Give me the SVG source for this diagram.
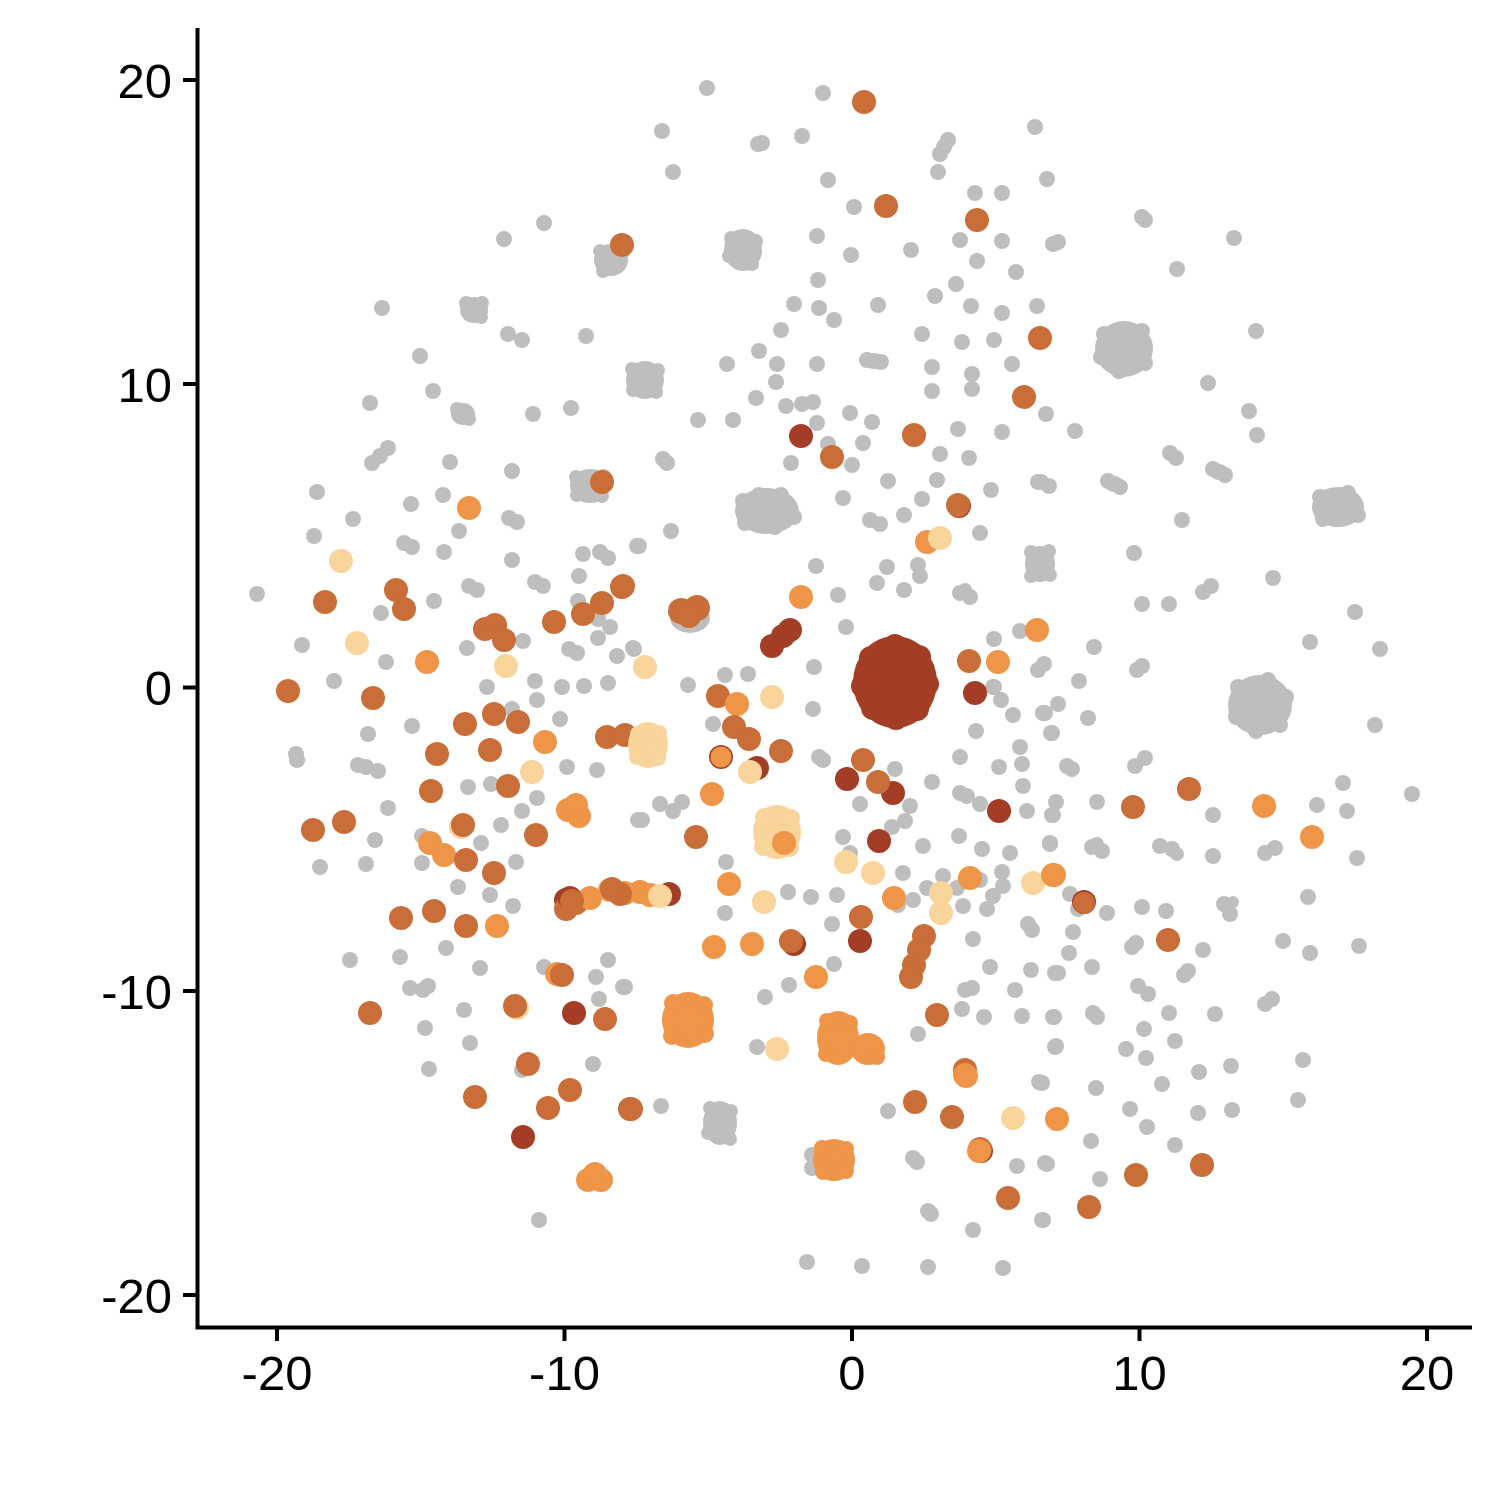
<svg xmlns="http://www.w3.org/2000/svg" xmlns:xlink="http://www.w3.org/1999/xlink" width="1500" height="1500" viewBox="0 0 1500 1500">
<style>
.g{fill:#bebebe}.d{fill:#a33d26}.b{fill:#c96e38}.o{fill:#ef9548}.l{fill:#f9d49b}
.ax{stroke:#000;stroke-width:4;fill:none;stroke-linecap:butt}
.tk{font-family:"Liberation Sans",Arial,Helvetica,sans-serif;font-size:49px;fill:#000}
</style>
<defs>
<circle id="g" r="8" class="g"/>
<circle id="d" r="12" class="d"/>
<circle id="b" r="12" class="b"/>
<circle id="o" r="12" class="o"/>
<circle id="l" r="12" class="l"/>
</defs>
<rect width="1500" height="1500" fill="#fff"/>
<g id="grey-points">
<use href="#g" x="707" y="88"/><use href="#g" x="823" y="93"/><use href="#g" x="662" y="131"/><use href="#g" x="802" y="136"/><use href="#g" x="1035" y="127"/>
<use href="#g" x="948" y="140"/><use href="#g" x="944" y="147"/><use href="#g" x="940" y="154"/><use href="#g" x="938" y="172"/><use href="#g" x="758" y="144"/><use href="#g" x="762" y="143"/>
<use href="#g" x="673" y="172"/><use href="#g" x="828" y="180"/><use href="#g" x="1047" y="179"/><use href="#g" x="975" y="193"/><use href="#g" x="1002" y="193"/><use href="#g" x="854" y="207"/>
<use href="#g" x="544" y="223"/><use href="#g" x="817" y="236"/><use href="#g" x="1145" y="220"/><use href="#g" x="1142" y="217"/><use href="#g" x="504" y="239"/><use href="#g" x="960" y="240"/>
<use href="#g" x="1002" y="241"/><use href="#g" x="1234" y="238"/><use href="#g" x="851" y="255"/><use href="#g" x="911" y="250"/><use href="#g" x="1053" y="244"/><use href="#g" x="1058" y="242"/>
<use href="#g" x="977" y="261"/><use href="#g" x="1177" y="269"/><use href="#g" x="1016" y="272"/><use href="#g" x="818" y="280"/><use href="#g" x="382" y="308"/><use href="#g" x="794" y="304"/>
<use href="#g" x="819" y="308"/><use href="#g" x="834" y="320"/><use href="#g" x="878" y="305"/><use href="#g" x="935" y="296"/><use href="#g" x="956" y="284"/><use href="#g" x="971" y="306"/>
<use href="#g" x="1002" y="313"/><use href="#g" x="1037" y="306"/><use href="#g" x="508" y="334"/><use href="#g" x="522" y="340"/><use href="#g" x="586" y="336"/><use href="#g" x="781" y="330"/>
<use href="#g" x="922" y="334"/><use href="#g" x="962" y="342"/><use href="#g" x="994" y="340"/><use href="#g" x="1256" y="331"/><use href="#g" x="420" y="356"/><use href="#g" x="759" y="351"/>
<use href="#g" x="727" y="364"/><use href="#g" x="777" y="364"/><use href="#g" x="817" y="364"/><use href="#g" x="932" y="367"/><use href="#g" x="972" y="374"/><use href="#g" x="1012" y="364"/>
<use href="#g" x="776" y="382"/><use href="#g" x="1208" y="383"/><use href="#g" x="433" y="391"/><use href="#g" x="370" y="403"/><use href="#g" x="533" y="414"/><use href="#g" x="571" y="408"/>
<use href="#g" x="756" y="398"/><use href="#g" x="786" y="406"/><use href="#g" x="802" y="404"/><use href="#g" x="813" y="402"/><use href="#g" x="817" y="423"/><use href="#g" x="850" y="413"/>
<use href="#g" x="872" y="422"/><use href="#g" x="932" y="391"/><use href="#g" x="972" y="389"/><use href="#g" x="1002" y="432"/><use href="#g" x="958" y="429"/><use href="#g" x="698" y="420"/>
<use href="#g" x="733" y="420"/><use href="#g" x="1046" y="414"/><use href="#g" x="1075" y="431"/><use href="#g" x="1249" y="411"/><use href="#g" x="1257" y="435"/><use href="#g" x="940" y="454"/>
<use href="#g" x="969" y="458"/><use href="#g" x="1038" y="482"/><use href="#g" x="991" y="490"/><use href="#g" x="937" y="480"/><use href="#g" x="922" y="499"/><use href="#g" x="888" y="481"/>
<use href="#g" x="843" y="498"/><use href="#g" x="667" y="463"/><use href="#g" x="663" y="459"/><use href="#g" x="791" y="463"/><use href="#g" x="828" y="444"/><use href="#g" x="852" y="465"/><use href="#g" x="863" y="443"/>
<use href="#g" x="1170" y="453"/><use href="#g" x="1176" y="458"/><use href="#g" x="1182" y="520"/><use href="#g" x="372" y="463"/><use href="#g" x="380" y="456"/><use href="#g" x="388" y="448"/>
<use href="#g" x="450" y="462"/><use href="#g" x="512" y="471"/><use href="#g" x="317" y="492"/><use href="#g" x="353" y="519"/><use href="#g" x="314" y="536"/><use href="#g" x="411" y="504"/>
<use href="#g" x="443" y="495"/><use href="#g" x="459" y="531"/><use href="#g" x="444" y="552"/><use href="#g" x="512" y="560"/><use href="#g" x="637" y="546"/>
<use href="#g" x="583" y="554"/><use href="#g" x="600" y="552"/><use href="#g" x="608" y="558"/><use href="#g" x="579" y="576"/><use href="#g" x="578" y="601"/>
<use href="#g" x="598" y="619"/><use href="#g" x="610" y="627"/><use href="#g" x="257" y="594"/><use href="#g" x="381" y="613"/><use href="#g" x="434" y="601"/><use href="#g" x="302" y="645"/>
<use href="#g" x="386" y="662"/><use href="#g" x="467" y="648"/><use href="#g" x="523" y="641"/><use href="#g" x="598" y="638"/><use href="#g" x="617" y="656"/><use href="#g" x="633" y="648"/>
<use href="#g" x="671" y="531"/><use href="#g" x="639" y="546"/><use href="#g" x="816" y="566"/><use href="#g" x="887" y="567"/><use href="#g" x="918" y="565"/><use href="#g" x="920" y="576"/>
<use href="#g" x="877" y="583"/><use href="#g" x="904" y="590"/><use href="#g" x="838" y="595"/><use href="#g" x="846" y="627"/><use href="#g" x="814" y="667"/><use href="#g" x="994" y="639"/>
<use href="#g" x="1020" y="631"/><use href="#g" x="1038" y="670"/><use href="#g" x="1044" y="664"/><use href="#g" x="725" y="675"/><use href="#g" x="748" y="674"/><use href="#g" x="688" y="685"/><use href="#g" x="634" y="649"/>
<use href="#g" x="994" y="687"/><use href="#g" x="904" y="515"/><use href="#g" x="980" y="533"/><use href="#g" x="1134" y="553"/><use href="#g" x="1273" y="578"/><use href="#g" x="1142" y="604"/>
<use href="#g" x="1169" y="604"/><use href="#g" x="1355" y="612"/><use href="#g" x="1310" y="642"/><use href="#g" x="1380" y="649"/><use href="#g" x="1094" y="647"/><use href="#g" x="1142" y="666"/><use href="#g" x="1137" y="670"/>
<use href="#g" x="1079" y="681"/><use href="#g" x="334" y="681"/><use href="#g" x="487" y="687"/><use href="#g" x="535" y="681"/><use href="#g" x="562" y="687"/><use href="#g" x="584" y="686"/>
<use href="#g" x="608" y="683"/><use href="#g" x="537" y="700"/>
<use href="#g" x="412" y="726"/><use href="#g" x="368" y="734"/><use href="#g" x="512" y="709"/><use href="#g" x="560" y="719"/><use href="#g" x="297" y="760"/><use href="#g" x="296" y="754"/><use href="#g" x="358" y="765"/>
<use href="#g" x="366" y="767"/><use href="#g" x="378" y="771"/><use href="#g" x="567" y="767"/><use href="#g" x="597" y="770"/><use href="#g" x="468" y="787"/><use href="#g" x="491" y="784"/>
<use href="#g" x="537" y="798"/><use href="#g" x="522" y="811"/><use href="#g" x="388" y="808"/><use href="#g" x="501" y="825"/><use href="#g" x="375" y="840"/><use href="#g" x="422" y="836"/>
<use href="#g" x="481" y="843"/><use href="#g" x="320" y="867"/><use href="#g" x="366" y="864"/><use href="#g" x="422" y="863"/><use href="#g" x="516" y="862"/><use href="#g" x="638" y="820"/>
<use href="#g" x="458" y="887"/><use href="#g" x="490" y="895"/><use href="#g" x="513" y="906"/><use href="#g" x="446" y="948"/><use href="#g" x="350" y="960"/><use href="#g" x="400" y="957"/>
<use href="#g" x="480" y="968"/><use href="#g" x="544" y="967"/><use href="#g" x="608" y="960"/><use href="#g" x="596" y="977"/><use href="#g" x="623" y="987"/><use href="#g" x="599" y="999"/>
<use href="#g" x="410" y="988"/><use href="#g" x="428" y="986"/><use href="#g" x="423" y="990"/><use href="#g" x="464" y="1010"/><use href="#g" x="425" y="1028"/><use href="#g" x="470" y="1043"/>
<use href="#g" x="593" y="1064"/><use href="#g" x="522" y="1070"/><use href="#g" x="429" y="1069"/><use href="#g" x="539" y="1220"/>
<use href="#g" x="813" y="709"/><use href="#g" x="713" y="724"/><use href="#g" x="819" y="757"/><use href="#g" x="823" y="760"/><use href="#g" x="895" y="769"/><use href="#g" x="932" y="782"/>
<use href="#g" x="960" y="757"/><use href="#g" x="999" y="767"/><use href="#g" x="1022" y="764"/><use href="#g" x="1013" y="715"/><use href="#g" x="1001" y="700"/><use href="#g" x="993" y="687"/>
<use href="#g" x="1043" y="713"/><use href="#g" x="1051" y="733"/><use href="#g" x="976" y="731"/><use href="#g" x="1020" y="747"/><use href="#g" x="1023" y="786"/><use href="#g" x="960" y="793"/>
<use href="#g" x="967" y="796"/><use href="#g" x="980" y="804"/><use href="#g" x="1027" y="811"/><use href="#g" x="1052" y="815"/><use href="#g" x="860" y="804"/><use href="#g" x="910" y="806"/>
<use href="#g" x="905" y="821"/><use href="#g" x="892" y="827"/><use href="#g" x="843" y="837"/><use href="#g" x="850" y="853"/><use href="#g" x="923" y="846"/><use href="#g" x="959" y="836"/>
<use href="#g" x="982" y="849"/><use href="#g" x="1010" y="853"/><use href="#g" x="1050" y="843"/><use href="#g" x="660" y="804"/><use href="#g" x="673" y="811"/><use href="#g" x="682" y="802"/>
<use href="#g" x="642" y="820"/><use href="#g" x="726" y="862"/><use href="#g" x="903" y="873"/><use href="#g" x="943" y="876"/><use href="#g" x="927" y="888"/><use href="#g" x="957" y="888"/>
<use href="#g" x="980" y="880"/><use href="#g" x="1002" y="872"/><use href="#g" x="1003" y="886"/><use href="#g" x="993" y="896"/><use href="#g" x="987" y="909"/><use href="#g" x="963" y="906"/>
<use href="#g" x="913" y="900"/><use href="#g" x="898" y="905"/><use href="#g" x="1028" y="924"/><use href="#g" x="1032" y="930"/><use href="#g" x="973" y="939"/><use href="#g" x="990" y="967"/><use href="#g" x="1031" y="970"/>
<use href="#g" x="1055" y="973"/><use href="#g" x="965" y="990"/><use href="#g" x="972" y="988"/><use href="#g" x="962" y="1009"/><use href="#g" x="984" y="1017"/><use href="#g" x="1015" y="990"/>
<use href="#g" x="1022" y="1016"/><use href="#g" x="1053" y="1017"/><use href="#g" x="1055" y="1047"/><use href="#g" x="1039" y="1082"/><use href="#g" x="918" y="1034"/><use href="#g" x="725" y="913"/>
<use href="#g" x="788" y="892"/><use href="#g" x="811" y="897"/><use href="#g" x="837" y="895"/><use href="#g" x="832" y="924"/><use href="#g" x="834" y="964"/><use href="#g" x="789" y="985"/>
<use href="#g" x="765" y="997"/><use href="#g" x="757" y="1047"/><use href="#g" x="625" y="987"/><use href="#g" x="661" y="1106"/><use href="#g" x="812" y="1155"/><use href="#g" x="812" y="1168"/><use href="#g" x="888" y="1111"/>
<use href="#g" x="913" y="1158"/><use href="#g" x="917" y="1162"/><use href="#g" x="1017" y="1166"/><use href="#g" x="1045" y="1163"/><use href="#g" x="928" y="1211"/><use href="#g" x="931" y="1214"/><use href="#g" x="973" y="1230"/>
<use href="#g" x="1042" y="1220"/><use href="#g" x="807" y="1262"/><use href="#g" x="862" y="1266"/><use href="#g" x="928" y="1267"/><use href="#g" x="1003" y="1268"/>
<use href="#g" x="1375" y="725"/><use href="#g" x="1058" y="704"/><use href="#g" x="1045" y="713"/><use href="#g" x="1088" y="718"/><use href="#g" x="1052" y="733"/><use href="#g" x="1067" y="766"/><use href="#g" x="1072" y="769"/>
<use href="#g" x="1056" y="802"/><use href="#g" x="1053" y="815"/><use href="#g" x="1097" y="802"/><use href="#g" x="1213" y="815"/><use href="#g" x="1317" y="805"/><use href="#g" x="1343" y="783"/>
<use href="#g" x="1347" y="811"/><use href="#g" x="1412" y="794"/><use href="#g" x="1050" y="844"/><use href="#g" x="1213" y="856"/><use href="#g" x="1357" y="858"/><use href="#g" x="1308" y="897"/>
<use href="#g" x="1070" y="894"/><use href="#g" x="1078" y="909"/><use href="#g" x="1107" y="913"/><use href="#g" x="1142" y="907"/><use href="#g" x="1166" y="911"/><use href="#g" x="1073" y="932"/>
<use href="#g" x="1132" y="947"/><use href="#g" x="1136" y="943"/><use href="#g" x="1069" y="953"/><use href="#g" x="1203" y="950"/><use href="#g" x="1283" y="941"/><use href="#g" x="1310" y="953"/><use href="#g" x="1359" y="946"/>
<use href="#g" x="1058" y="973"/><use href="#g" x="1092" y="967"/><use href="#g" x="1184" y="975"/><use href="#g" x="1188" y="971"/><use href="#g" x="1138" y="986"/><use href="#g" x="1148" y="994"/><use href="#g" x="1265" y="1004"/><use href="#g" x="1272" y="999"/>
<use href="#g" x="1054" y="1017"/><use href="#g" x="1097" y="1017"/><use href="#g" x="1093" y="1013"/><use href="#g" x="1169" y="1013"/><use href="#g" x="1215" y="1014"/><use href="#g" x="1144" y="1029"/><use href="#g" x="1175" y="1041"/>
<use href="#g" x="1056" y="1046"/><use href="#g" x="1126" y="1049"/><use href="#g" x="1146" y="1058"/><use href="#g" x="1199" y="1072"/><use href="#g" x="1231" y="1066"/><use href="#g" x="1303" y="1060"/>
<use href="#g" x="1042" y="1083"/><use href="#g" x="1096" y="1088"/><use href="#g" x="1162" y="1084"/><use href="#g" x="1130" y="1109"/><use href="#g" x="1198" y="1113"/><use href="#g" x="1232" y="1110"/>
<use href="#g" x="1298" y="1100"/><use href="#g" x="1147" y="1127"/><use href="#g" x="1091" y="1141"/><use href="#g" x="1175" y="1145"/><use href="#g" x="1047" y="1164"/><use href="#g" x="1100" y="1179"/>
<use href="#g" x="1043" y="1220"/>
<g class="g">
<g transform="translate(743 250)"><ellipse rx="19" ry="21"/><circle cx="-12" cy="-12" r="7"/><circle cx="13" cy="-9" r="7"/><circle cx="-14" cy="6" r="7"/><circle cx="9" cy="14" r="7"/></g>
<g transform="translate(611 260)"><ellipse rx="17" ry="16"/><circle cx="-11" cy="-9" r="7"/><circle cx="12" cy="-8" r="7"/><circle cx="-8" cy="11" r="7"/></g>
<g transform="translate(474 310)"><ellipse rx="14" ry="13"/><circle cx="-8" cy="-7" r="7"/><circle cx="8" cy="-7" r="7"/><circle cx="7" cy="7" r="7"/></g>
<g transform="translate(1124 349)"><ellipse rx="29" ry="28"/><circle cx="-20" cy="-15" r="8"/><circle cx="18" cy="-18" r="8"/><circle cx="-23" cy="8" r="8"/><circle cx="21" cy="14" r="8"/><circle cx="-5" cy="22" r="8"/></g>
<g transform="translate(645 380)"><ellipse rx="19" ry="19"/><circle cx="-13" cy="-11" r="7"/><circle cx="13" cy="-10" r="7"/><circle cx="-12" cy="10" r="7"/><circle cx="11" cy="12" r="7"/></g>
<g transform="translate(463 414)"><ellipse rx="12" ry="11"/><circle cx="-6" cy="-5" r="7"/><circle cx="6" cy="5" r="7"/></g>
<g transform="translate(767 511)"><ellipse rx="32" ry="23"/><circle cx="-24" cy="-10" r="8"/><circle cx="-8" cy="-16" r="8"/><circle cx="14" cy="-16" r="8"/><circle cx="27" cy="6" r="8"/><circle cx="-22" cy="12" r="8"/><circle cx="8" cy="16" r="8"/></g>
<g transform="translate(590 486)"><ellipse rx="20" ry="17"/><circle cx="-14" cy="-9" r="7"/><circle cx="14" cy="-10" r="7"/><circle cx="-13" cy="9" r="7"/><circle cx="12" cy="10" r="7"/></g>
<g transform="translate(1338 507)"><ellipse rx="26" ry="20"/><circle cx="-18" cy="-10" r="8"/><circle cx="10" cy="-14" r="8"/><circle cx="20" cy="8" r="8"/><circle cx="-15" cy="12" r="8"/></g>
<g transform="translate(1260 705)"><ellipse rx="32" ry="30"/><circle cx="-22" cy="-18" r="8"/><circle cx="8" cy="-25" r="8"/><circle cx="26" cy="-8" r="8"/><circle cx="20" cy="20" r="8"/><circle cx="-24" cy="12" r="8"/><circle cx="-4" cy="26" r="8"/></g>
<g transform="translate(720 1123)"><ellipse rx="17" ry="22"/><circle cx="-10" cy="-15" r="7"/><circle cx="11" cy="-12" r="7"/><circle cx="-12" cy="10" r="7"/><circle cx="10" cy="16" r="7"/></g>
<g transform="translate(1040 564)"><ellipse rx="15" ry="18"/><circle cx="-9" cy="-12" r="7"/><circle cx="9" cy="-13" r="7"/><circle cx="-9" cy="12" r="7"/><circle cx="10" cy="11" r="7"/></g>
<ellipse cx="874" cy="361" rx="10" ry="8"/><circle cx="867" cy="360" r="8"/><circle cx="881" cy="362" r="8"/>
<ellipse cx="1219" cy="472" rx="9" ry="8"/><circle cx="1213" cy="469" r="8"/><circle cx="1225" cy="475" r="8"/>
<ellipse cx="1114" cy="484" rx="9" ry="8"/><circle cx="1108" cy="481" r="8"/><circle cx="1120" cy="487" r="8"/>
<circle cx="1041" cy="482" r="8"/><circle cx="1049" cy="486" r="8"/>
<circle cx="1092" cy="847" r="8"/><circle cx="1102" cy="851" r="8"/><circle cx="1097" cy="844" r="7"/>
<circle cx="1160" cy="846" r="8"/><circle cx="1172" cy="849" r="8"/><circle cx="1177" cy="854" r="7"/>
<circle cx="1265" cy="853" r="8"/><circle cx="1275" cy="848" r="8"/>
<circle cx="1224" cy="904" r="8"/><circle cx="1230" cy="914" r="8"/><circle cx="1233" cy="902" r="6"/>
<circle cx="1135" cy="766" r="8"/><circle cx="1145" cy="758" r="8"/>
<circle cx="960" cy="593" r="8"/><circle cx="970" cy="597" r="8"/><circle cx="965" cy="590" r="7"/>
<circle cx="509" cy="518" r="8"/><circle cx="517" cy="522" r="8"/>
<circle cx="535" cy="582" r="8"/><circle cx="543" cy="586" r="8"/>
<circle cx="569" cy="649" r="8"/><circle cx="577" cy="653" r="8"/>
<circle cx="404" cy="543" r="8"/><circle cx="412" cy="547" r="8"/>
<circle cx="469" cy="586" r="8"/><circle cx="477" cy="590" r="8"/>
<circle cx="870" cy="520" r="8"/><circle cx="880" cy="524" r="8"/>
<circle cx="1203" cy="592" r="8"/><circle cx="1211" cy="586" r="8"/>
<ellipse cx="690" cy="618" rx="20" ry="15"/>
</g>
</g>
<g id="coloured-points">
<use href="#l" x="341" y="561"/><use href="#l" x="357" y="643"/><use href="#l" x="506" y="666"/><use href="#l" x="645" y="667"/>
<use href="#l" x="772" y="697"/><use href="#l" x="532" y="772"/>
<use href="#b" x="864" y="102"/><use href="#b" x="886" y="206"/><use href="#b" x="977" y="220"/><use href="#b" x="622" y="245"/><use href="#b" x="1040" y="338"/><use href="#b" x="1024" y="397"/>
<use href="#b" x="914" y="435"/><use href="#b" x="832" y="457"/><use href="#d" x="959" y="506"/><use href="#b" x="958" y="505"/><use href="#b" x="602" y="482"/><use href="#b" x="623" y="586"/>
<circle class="b" cx="681" cy="611" r="13"/><circle class="b" cx="697" cy="608" r="13"/><circle class="b" cx="689" cy="616" r="12"/>
<use href="#b" x="325" y="602"/><use href="#b" x="396" y="590"/><use href="#b" x="404" y="609"/><use href="#b" x="622" y="587"/><use href="#b" x="602" y="603"/><use href="#b" x="583" y="614"/>
<use href="#b" x="554" y="622"/><use href="#b" x="485" y="629"/><use href="#b" x="495" y="625"/><use href="#b" x="504" y="640"/><use href="#b" x="288" y="691"/><use href="#b" x="373" y="698"/>
<use href="#b" x="969" y="661"/><use href="#b" x="465" y="724"/><use href="#b" x="494" y="714"/><use href="#b" x="518" y="722"/><use href="#b" x="437" y="754"/><use href="#b" x="490" y="750"/>
<use href="#o" x="469" y="508"/><use href="#o" x="427" y="662"/><use href="#o" x="801" y="597"/><use href="#o" x="927" y="542"/><use href="#l" x="940" y="538"/><use href="#o" x="1037" y="630"/><use href="#o" x="998" y="662"/>
<use href="#d" x="801" y="436"/>
<use href="#d" x="772" y="646"/><use href="#d" x="783" y="636"/><use href="#d" x="790" y="630"/>
<use href="#b" x="718" y="696"/><use href="#o" x="737" y="704"/>
<use href="#o" x="545" y="742"/>
<use href="#b" x="607" y="737"/><use href="#b" x="625" y="735"/>
<g class="l" transform="translate(648 745)"><ellipse rx="20" ry="23"/><circle cx="-10" cy="-11" r="8"/><circle cx="11" cy="-12" r="8"/><circle cx="-11" cy="12" r="8"/><circle cx="10" cy="13" r="8"/></g>
<use href="#b" x="734" y="727"/><use href="#b" x="749" y="739"/><use href="#b" x="781" y="751"/>
<use href="#d" x="721" y="757"/><circle class="o" cx="721" cy="757" r="10.5"/>
<use href="#d" x="757" y="768"/><use href="#l" x="750" y="772"/>
<use href="#b" x="863" y="760"/><use href="#d" x="847" y="779"/><use href="#d" x="893" y="793"/><use href="#b" x="878" y="782"/>
<use href="#d" x="999" y="811"/>
<use href="#o" x="712" y="794"/>
<use href="#b" x="431" y="791"/><use href="#b" x="508" y="786"/>
<use href="#o" x="568" y="810"/><use href="#o" x="579" y="816"/><use href="#o" x="576" y="805"/>
<use href="#b" x="313" y="830"/><use href="#b" x="344" y="822"/><use href="#l" x="461" y="827"/><use href="#b" x="463" y="825"/><use href="#b" x="536" y="835"/>
<use href="#o" x="430" y="843"/><use href="#o" x="444" y="855"/><use href="#b" x="466" y="860"/><use href="#b" x="494" y="873"/>
<use href="#b" x="696" y="837"/>
<g class="l" transform="translate(777 832)"><ellipse rx="24" ry="27"/><circle cx="-13" cy="-15" r="9"/><circle cx="14" cy="-14" r="9"/><circle cx="-14" cy="15" r="9"/><circle cx="13" cy="16" r="9"/></g>
<use href="#o" x="784" y="843"/>
<use href="#d" x="879" y="841"/><use href="#l" x="846" y="862"/><use href="#l" x="873" y="873"/>
<use href="#o" x="970" y="878"/><use href="#l" x="1033" y="883"/><use href="#o" x="1053" y="875"/><use href="#o" x="894" y="898"/>
<use href="#l" x="941" y="913"/><use href="#l" x="941" y="893"/>
<use href="#o" x="729" y="884"/><use href="#l" x="764" y="902"/>
<use href="#d" x="566" y="900"/><use href="#b" x="576" y="903"/><use href="#o" x="590" y="898"/><use href="#b" x="566" y="909"/><use href="#d" x="570" y="898"/><use href="#b" x="572" y="901"/>
<use href="#o" x="610" y="890"/><use href="#o" x="625" y="893"/><use href="#o" x="640" y="892"/><use href="#b" x="620" y="894"/><use href="#o" x="650" y="895"/>
<use href="#d" x="669" y="894"/><use href="#l" x="660" y="896"/><use href="#b" x="612" y="889"/>
<use href="#b" x="401" y="918"/><use href="#b" x="434" y="911"/><use href="#b" x="466" y="926"/><use href="#o" x="497" y="926"/>
<use href="#b" x="861" y="917"/><use href="#d" x="860" y="941"/>
<use href="#d" x="794" y="944"/><use href="#b" x="791" y="941"/>
<use href="#b" x="924" y="936"/><use href="#b" x="919" y="950"/><use href="#b" x="914" y="965"/><use href="#b" x="911" y="977"/>
<use href="#o" x="714" y="947"/><use href="#o" x="752" y="944"/><use href="#o" x="816" y="977"/>
<use href="#o" x="557" y="974"/><use href="#b" x="562" y="975"/>
<use href="#b" x="370" y="1013"/><use href="#l" x="517" y="1008"/><use href="#b" x="515" y="1006"/><use href="#d" x="574" y="1013"/><use href="#b" x="605" y="1019"/>
<use href="#b" x="528" y="1064"/><use href="#b" x="570" y="1090"/><use href="#b" x="548" y="1108"/><use href="#b" x="475" y="1097"/><use href="#b" x="630" y="1109"/>
<use href="#d" x="523" y="1137"/>
<use href="#o" x="588" y="1180"/><use href="#o" x="601" y="1180"/><use href="#o" x="595" y="1174"/>
<g class="o" transform="translate(688 1020)"><ellipse rx="26" ry="28"/><circle cx="-15" cy="-17" r="9"/><circle cx="16" cy="-15" r="9"/><circle cx="-16" cy="16" r="9"/><circle cx="17" cy="14" r="9"/></g>
<use href="#b" x="937" y="1015"/>
<g class="o" transform="translate(838 1038)"><ellipse rx="21" ry="27"/><circle cx="-11" cy="-17" r="8"/><circle cx="12" cy="-15" r="8"/><circle cx="-12" cy="16" r="8"/></g>
<g class="o" transform="translate(868 1049)"><ellipse rx="17" ry="16"/><circle cx="9" cy="8" r="8"/></g>
<use href="#l" x="777" y="1049"/>
<use href="#b" x="965" y="1070"/><use href="#o" x="966" y="1076"/><use href="#o" x="965" y="1075"/>
<use href="#b" x="915" y="1102"/><use href="#b" x="952" y="1117"/><use href="#l" x="1013" y="1118"/><use href="#o" x="1057" y="1119"/>
<use href="#d" x="981" y="1151"/><use href="#b" x="980" y="1149"/><use href="#o" x="979" y="1151"/>
<g class="o" transform="translate(834 1160)"><ellipse rx="21" ry="21"/><circle cx="-12" cy="-12" r="8"/><circle cx="12" cy="-11" r="8"/><circle cx="-11" cy="12" r="8"/><circle cx="12" cy="11" r="8"/></g>
<use href="#b" x="1008" y="1198"/><use href="#b" x="631" y="1109"/>
<use href="#b" x="1133" y="807"/><use href="#b" x="1189" y="789"/><use href="#o" x="1264" y="806"/><use href="#o" x="1312" y="837"/><use href="#o" x="1054" y="875"/>
<use href="#d" x="1084" y="902"/><circle class="b" cx="1084" cy="903" r="11"/><use href="#b" x="1168" y="940"/><use href="#b" x="1136" y="1175"/><use href="#b" x="1202" y="1165"/><use href="#b" x="1089" y="1207"/>
<g class="d" transform="translate(895 682)">
<ellipse rx="42" ry="46"/>
<circle cx="-24" cy="-24" r="12"/><circle cx="24" cy="-25" r="12"/><circle cx="-32" cy="4" r="12"/><circle cx="32" cy="2" r="12"/>
<circle cx="-22" cy="26" r="12"/><circle cx="22" cy="27" r="12"/><circle cx="0" cy="-36" r="12"/><circle cx="1" cy="36" r="12"/>
</g>
<use href="#d" x="975" y="693"/>
</g>
<g id="axes">
<path class="ax" d="M197.5 28V1329M195.5 1327.5H1472"/>
<path class="ax" d="M183 80H197M183 384H197M183 687.5H197M183 991H197M183 1295H197"/>
<path class="ax" d="M277 1327V1341M564.5 1327V1341M852 1327V1341M1139.5 1327V1341M1427 1327V1341"/>
<g class="tk" text-anchor="end">
<text x="172" y="98">20</text>
<text x="172" y="402">10</text>
<text x="172" y="705">0</text>
<text x="172" y="1009">-10</text>
<text x="172" y="1313">-20</text>
</g>
<g class="tk" text-anchor="middle">
<text x="277" y="1390">-20</text>
<text x="564.5" y="1390">-10</text>
<text x="852" y="1390">0</text>
<text x="1139.5" y="1390">10</text>
<text x="1427" y="1390">20</text>
</g>
</g>
</svg>
